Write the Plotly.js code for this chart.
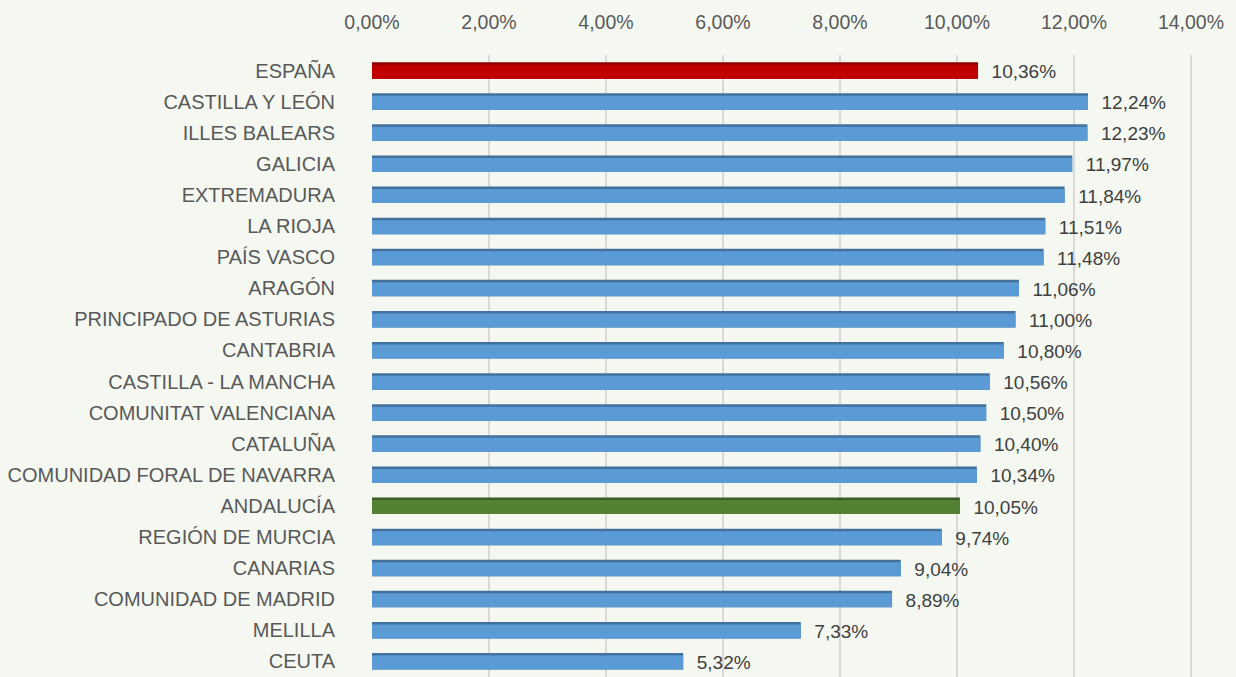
<!DOCTYPE html>
<html><head><meta charset="utf-8">
<script src="https://cdn.plot.ly/plotly-3.0.1.min.js"></script>
<style>body{margin:0;background:#f4f8f1;}#chart{width:1236px;height:677px;}</style>
</head><body><div id="chart"></div>
<script>
const categories = ["ESPAÑA","CASTILLA Y LEÓN","ILLES BALEARS","GALICIA","EXTREMADURA","LA RIOJA","PAÍS VASCO","ARAGÓN","PRINCIPADO DE ASTURIAS","CANTABRIA","CASTILLA - LA MANCHA","COMUNITAT VALENCIANA","CATALUÑA","COMUNIDAD FORAL DE NAVARRA","ANDALUCÍA","REGIÓN DE MURCIA","CANARIAS","COMUNIDAD DE MADRID","MELILLA","CEUTA"];
const values = [10.36,12.24,12.23,11.97,11.84,11.51,11.48,11.06,11.00,10.80,10.56,10.50,10.40,10.34,10.05,9.74,9.04,8.89,7.33,5.32];
const tickValues = [0,2,4,6,8,10,12,14];
const tickLabels = ["0,00%","2,00%","4,00%","6,00%","8,00%","10,00%","12,00%","14,00%"];

const faceColor = categories.map(c => c === "ESPAÑA" ? "#c00000" : (c === "ANDALUCÍA" ? "#548235" : "#5b9bd5"));
const edgeColor = categories.map(c => c === "ESPAÑA" ? "#8c0000" : (c === "ANDALUCÍA" ? "#3b5d25" : "#41719c"));

const font = "'Liberation Sans', Arial, sans-serif";

const traces = [
  {type:'bar', orientation:'h', y:categories, x:values, width:0.53, offset:-0.27,
   marker:{color:edgeColor, line:{width:0}}, hoverinfo:'skip', showlegend:false},
  {type:'bar', orientation:'h', y:categories, x:values, width:0.45, offset:-0.19,
   marker:{color:faceColor, line:{width:0}},
   texttemplate:'\u00a0\u00a0%{x:.2f}%', textposition:'outside', cliponaxis:false, constraintext:'none',
   textfont:{family:font, size:19, color:'#404040'}, showlegend:false}
];

const layout = {
  width:1236, height:677,
  paper_bgcolor:'#f4f8f1', plot_bgcolor:'#f4f8f1',
  margin:{l:372, r:0, t:55, b:0},
  barmode:'overlay',
  separators:',.',
  font:{family:font, color:'#595959', size:19},
  xaxis:{side:'top', range:[0,14.77], tickvals:tickValues, ticktext:tickLabels,
         showgrid:true, gridcolor:'#d9d9d9', gridwidth:2, zeroline:false, showline:false,
         ticks:'', ticklabelstandoff:21, tickfont:{family:font, size:19.5, color:'#595959'}},
  yaxis:{autorange:'reversed', showgrid:false, zeroline:false, showline:false, ticks:'',
         ticklabelstandoff:36, tickfont:{family:font, size:20, color:'#595959'}}
};
Plotly.newPlot('chart', traces, layout, {displayModeBar:false, staticPlot:true});
</script></body></html>
